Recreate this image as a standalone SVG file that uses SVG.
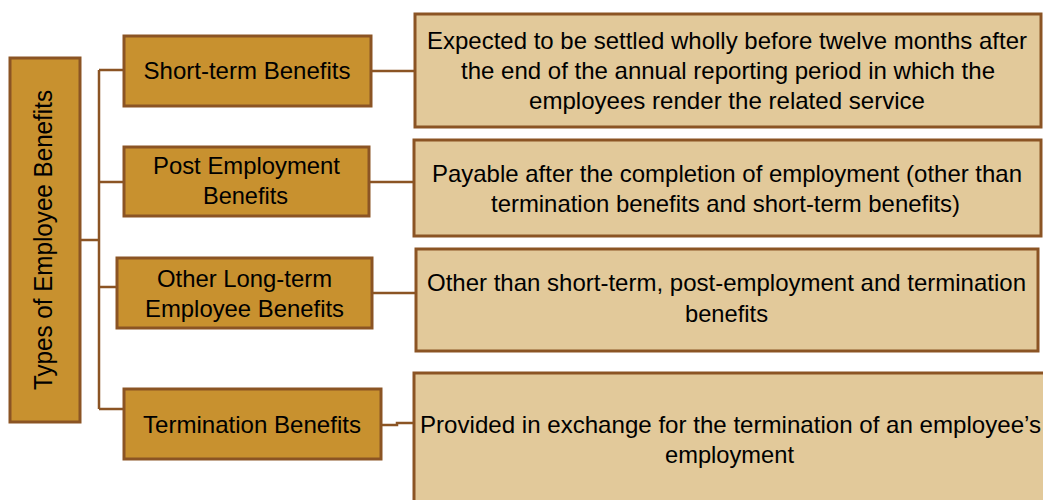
<svg xmlns="http://www.w3.org/2000/svg" width="1043" height="500" viewBox="0 0 1043 500">
<style>
.cat{fill:#C8912F;stroke:#8B5424;stroke-width:3}
.desc{fill:#E2C99A;stroke:#8B5424;stroke-width:3}
.conn{fill:none;stroke:#8B5424;stroke-width:2.5}
text{font-family:"Liberation Sans",Arial,sans-serif;font-size:24px;fill:#000}
.c{text-anchor:middle}
</style>
<rect width="1043" height="500" fill="#fff"/>
<g id="connectors">
<path class="conn" d="M81,240 H99 M99,70 V409 M99,70 H123 M99,182 H123 M99,287 H116 M99,409 H123"/>
<path class="conn" d="M372,71 H414 M370,182 H413 M373,293 H415 M382,425 H397 V423 H413"/>
</g>
<g id="root">
<rect class="cat" x="10" y="58" width="70" height="364"/>
<text class="c" style="font-size:25px" transform="translate(52,240) rotate(-90)" textLength="300" lengthAdjust="spacingAndGlyphs">Types of Employee Benefits</text>
</g>
<g id="short-term">
<rect class="cat" x="124" y="36" width="247" height="70"/>
<text class="c" x="247" y="79" textLength="207" lengthAdjust="spacingAndGlyphs">Short-term Benefits</text>
</g>
<g id="post-employment">
<rect class="cat" x="124" y="147" width="245" height="69"/>
<text class="c" x="246.5" y="174" textLength="187" lengthAdjust="spacingAndGlyphs">Post Employment</text>
<text class="c" x="245.5" y="204" textLength="85" lengthAdjust="spacingAndGlyphs">Benefits</text>
</g>
<g id="other-long-term">
<rect class="cat" x="117" y="258" width="255" height="70"/>
<text class="c" x="244.5" y="287" textLength="175" lengthAdjust="spacingAndGlyphs">Other Long-term</text>
<text class="c" x="244.5" y="317" textLength="199" lengthAdjust="spacingAndGlyphs">Employee Benefits</text>
</g>
<g id="termination">
<rect class="cat" x="124" y="389" width="257" height="70"/>
<text class="c" x="252" y="433" textLength="218" lengthAdjust="spacingAndGlyphs">Termination Benefits</text>
</g>
<g id="desc-short-term">
<rect class="desc" x="415" y="14" width="626" height="113"/>
<text class="c" x="727" y="49" textLength="600" lengthAdjust="spacingAndGlyphs">Expected to be settled wholly before twelve months after</text>
<text class="c" x="728" y="79" textLength="534" lengthAdjust="spacingAndGlyphs">the end of the annual reporting period in which the</text>
<text class="c" x="727" y="109" textLength="396" lengthAdjust="spacingAndGlyphs">employees render the related service</text>
</g>
<g id="desc-post-employment">
<rect class="desc" x="414" y="140" width="627" height="96"/>
<text class="c" x="727" y="182" textLength="590" lengthAdjust="spacingAndGlyphs">Payable after the completion of employment (other than</text>
<text class="c" x="725.5" y="212" textLength="469" lengthAdjust="spacingAndGlyphs">termination benefits and short-term benefits)</text>
</g>
<g id="desc-other-long-term">
<rect class="desc" x="416" y="249" width="622" height="102"/>
<text class="c" x="726.5" y="291" textLength="599" lengthAdjust="spacingAndGlyphs">Other than short-term, post-employment and termination</text>
<text class="c" x="726.5" y="322" textLength="83" lengthAdjust="spacingAndGlyphs">benefits</text>
</g>
<g id="desc-termination">
<rect class="desc" x="414" y="373" width="632" height="140"/>
<text class="c" x="730.5" y="433" textLength="621" lengthAdjust="spacingAndGlyphs">Provided in exchange for the termination of an employee’s</text>
<text class="c" x="729.5" y="463" textLength="129" lengthAdjust="spacingAndGlyphs">employment</text>
</g>
</svg>
